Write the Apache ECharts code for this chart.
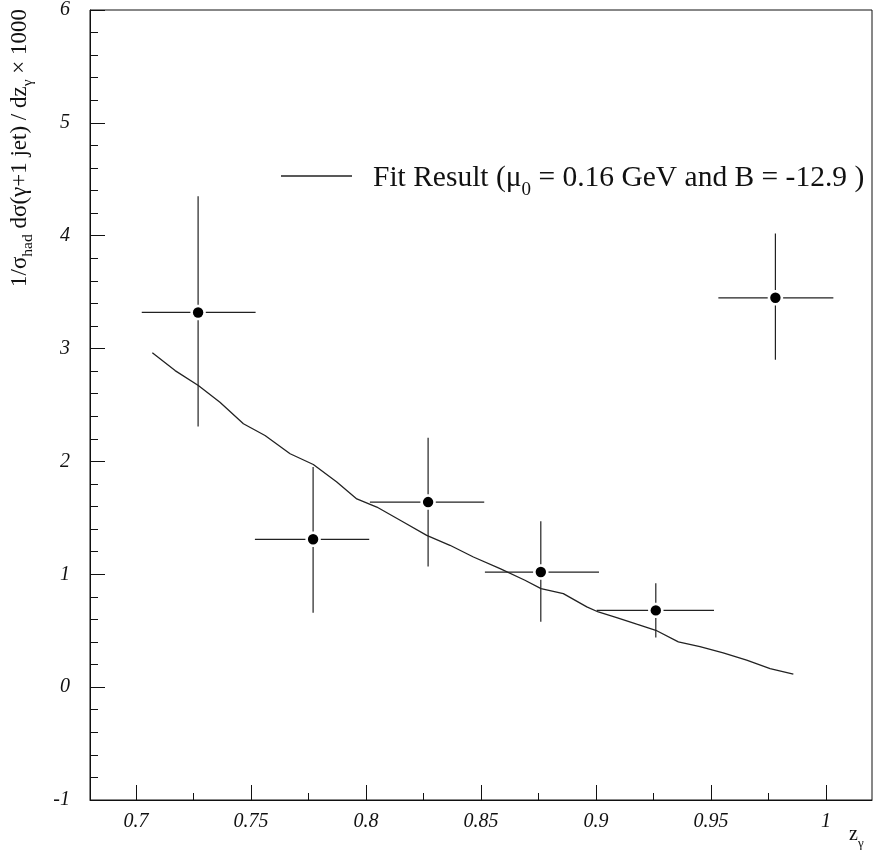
<!DOCTYPE html>
<html>
<head>
<meta charset="utf-8">
<script src="https://cdn.jsdelivr.net/npm/echarts@6/dist/echarts.min.js"></script>
<style>html,body{margin:0;padding:0;background:#fff}#c{width:877px;height:857px}</style>
</head>
<body>
<div id="c"></div>
<script>
// ---- data ----
var pointX    = [0.727, 0.777, 0.827, 0.876, 0.926, 0.978];
var pointY    = [3.32, 1.31, 1.64, 1.02, 0.68, 3.45];
var xErrLow   = [0.7025, 0.7517, 0.8017, 0.8517, 0.9003, 0.9532];
var xErrHigh  = [0.7520, 0.8014, 0.8514, 0.9013, 0.9513, 1.0032];
var yErrLow   = [2.31, 0.66, 1.07, 0.58, 0.44, 2.90];
var yErrHigh  = [4.35, 1.95, 2.21, 1.47, 0.92, 4.02];

var fitX = [0.7071,0.7170,0.7271,0.7365,0.7467,0.7561,0.7670,0.7771,0.7873,0.7960,0.8047,0.8162,0.8264,0.8365,0.8467,0.8583,0.8691,0.8761,0.8858,0.8960,0.9010,0.9090,0.9177,0.9260,0.9358,0.9452,0.9553,0.9655,0.9757,0.9858];
var fitY = [2.962,2.805,2.673,2.525,2.334,2.230,2.068,1.973,1.817,1.668,1.596,1.463,1.345,1.257,1.153,1.050,0.947,0.873,0.829,0.711,0.666,0.617,0.558,0.504,0.401,0.358,0.304,0.239,0.165,0.115];

var xTickValues  = [0.7, 0.75, 0.8, 0.85, 0.9, 0.95, 1];
var xTickLabels  = ['0.7', '0.75', '0.8', '0.85', '0.9', '0.95', '1'];
var xMinorValues = [0.725, 0.775, 0.825, 0.875, 0.925, 0.975];
var yTickLabels  = ['-1', '0', '1', '2', '3', '4', '5', '6'];

var legendName = 'Fit Result';

// ---- build ----
var font = '"Liberation Serif","Times New Roman",serif';
var pts = pointX.map(function (x, i) {
  return [x, pointY[i], xErrLow[i], xErrHigh[i], yErrLow[i], yErrHigh[i]];
});
var fit = fitX.map(function (x, i) { return [x, fitY[i]]; });

var chart = echarts.init(document.getElementById('c'), null, {renderer: 'canvas'});
var axisColor = '#111';
var gridPos = {left: 90, right: 5, top: 9, bottom: 57};

chart.setOption({
  backgroundColor: '#fff',
  animation: false,
  grid: [
    Object.assign({show: true, borderColor: axisColor, borderWidth: 1, backgroundColor: 'transparent'}, gridPos),
    Object.assign({show: false}, gridPos)
  ],
  xAxis: [{
    type: 'value', min: 0.68, max: 1.02, gridIndex: 0,
    axisLine: {show: true, onZero: false, lineStyle: {color: axisColor, width: 1}},
    axisTick: {show: true, inside: true, length: 15, customValues: xTickValues, lineStyle: {color: axisColor}},
    axisLabel: {
      show: true, customValues: xTickValues, margin: 12,
      fontFamily: font, fontStyle: 'italic', fontSize: 20, color: '#111',
      formatter: function (v) { var i = xTickValues.findIndex(function (t) { return Math.abs(t - v) < 1e-6; }); return i >= 0 ? xTickLabels[i] : ''; }
    },
    splitLine: {show: false}
  }, {
    type: 'value', min: 0.68, max: 1.02, gridIndex: 1, position: 'bottom',
    axisLine: {show: false, onZero: false},
    axisTick: {show: true, inside: true, length: 7, customValues: xMinorValues, lineStyle: {color: axisColor}},
    axisLabel: {show: false},
    splitLine: {show: false}
  }],
  yAxis: [{
    type: 'value', min: -1, max: 6, interval: 1, gridIndex: 0,
    axisLine: {show: true, onZero: false, lineStyle: {color: axisColor, width: 1}},
    axisTick: {show: true, inside: true, length: 15, lineStyle: {color: axisColor}},
    minorTick: {show: true, splitNumber: 5, length: 8, lineStyle: {color: axisColor}},
    axisLabel: {
      margin: 20, fontFamily: font, fontStyle: 'italic', fontSize: 20, color: '#111',
      formatter: function (v) { return yTickLabels[Math.round(v) + 1]; }
    },
    splitLine: {show: false}
  }, {
    type: 'value', min: -1, max: 6, interval: 1, gridIndex: 1, show: false
  }],
  legend: {
    show: true, left: 281, top: 161, orient: 'horizontal',
    itemWidth: 71, itemHeight: 1.3, icon: 'rect',
    data: [{name: legendName, icon: 'rect', itemStyle: {color: '#222'}}],
    formatter: function () {
      return '{p|}{a|Fit Result (μ}{s|0}{a| = 0.16 GeV and B = -12.9 )}';
    },
    textStyle: {
      fontFamily: font, fontSize: 29.5, color: '#111',
      rich: {
        p: {width: 16, fontSize: 29.5, lineHeight: 34},
        a: {fontFamily: font, fontSize: 29.5, color: '#111', lineHeight: 34, verticalAlign: 'bottom'},
        s: {fontFamily: font, fontSize: 19, color: '#111', lineHeight: 34, verticalAlign: 'bottom', padding: [0, 0, -7, 0]}
      }
    },
    padding: 0
  },
  graphic: [
    {
      type: 'text', left: 8, top: 9, rotation: Math.PI / 2, z: 10,
      style: {
        text: '{t|1/σ}{s|had}{t| dσ(γ+1 jet) / dz}{s|γ}{t| × 1000}',
        fontFamily: font, fill: '#111',
        rich: {
          t: {fontFamily: font, fontSize: 23, fill: '#111', lineHeight: 28, verticalAlign: 'bottom'},
          s: {fontFamily: font, fontSize: 15.5, fill: '#111', lineHeight: 28, verticalAlign: 'bottom', padding: [0, 0, -5, 0]}
        }
      }
    },
    {
      type: 'text', left: 849, top: 825, z: 10,
      style: {
        text: '{t|z}{s|γ}',
        fontFamily: font, fill: '#111',
        rich: {
          t: {fontFamily: font, fontSize: 20, fill: '#111', lineHeight: 24, verticalAlign: 'bottom'},
          s: {fontFamily: font, fontSize: 13, fill: '#111', lineHeight: 24, verticalAlign: 'bottom', padding: [0, 0, -5, 0]}
        }
      }
    }
  ],
  series: [
    {
      name: legendName, type: 'line', data: fit, showSymbol: false, symbol: 'none',
      xAxisIndex: 0, yAxisIndex: 0,
      lineStyle: {color: '#222', width: 1.3}, itemStyle: {color: '#222'}, z: 3
    },
    {
      name: 'data', type: 'custom', z: 4, xAxisIndex: 0, yAxisIndex: 0,
      data: pts,
      renderItem: function (params, api) {
        var c = api.coord([api.value(0), api.value(1)]);
        var xl = api.coord([api.value(2), api.value(1)])[0];
        var xh = api.coord([api.value(3), api.value(1)])[0];
        var yl = api.coord([api.value(0), api.value(4)])[1];
        var yh = api.coord([api.value(0), api.value(5)])[1];
        var r = 5.2, g = r + 2.5;
        var ls = {stroke: '#222', lineWidth: 1.2};
        return {
          type: 'group',
          children: [
            {type: 'line', shape: {x1: xl, y1: c[1], x2: c[0] - g, y2: c[1]}, style: ls},
            {type: 'line', shape: {x1: c[0] + g, y1: c[1], x2: xh, y2: c[1]}, style: ls},
            {type: 'line', shape: {x1: c[0], y1: yh, x2: c[0], y2: c[1] - g}, style: ls},
            {type: 'line', shape: {x1: c[0], y1: c[1] + g, x2: c[0], y2: yl}, style: ls},
            {type: 'circle', shape: {cx: c[0], cy: c[1], r: r}, style: {fill: '#000'}}
          ]
        };
      }
    }
  ]
});
</script>
</body>
</html>
